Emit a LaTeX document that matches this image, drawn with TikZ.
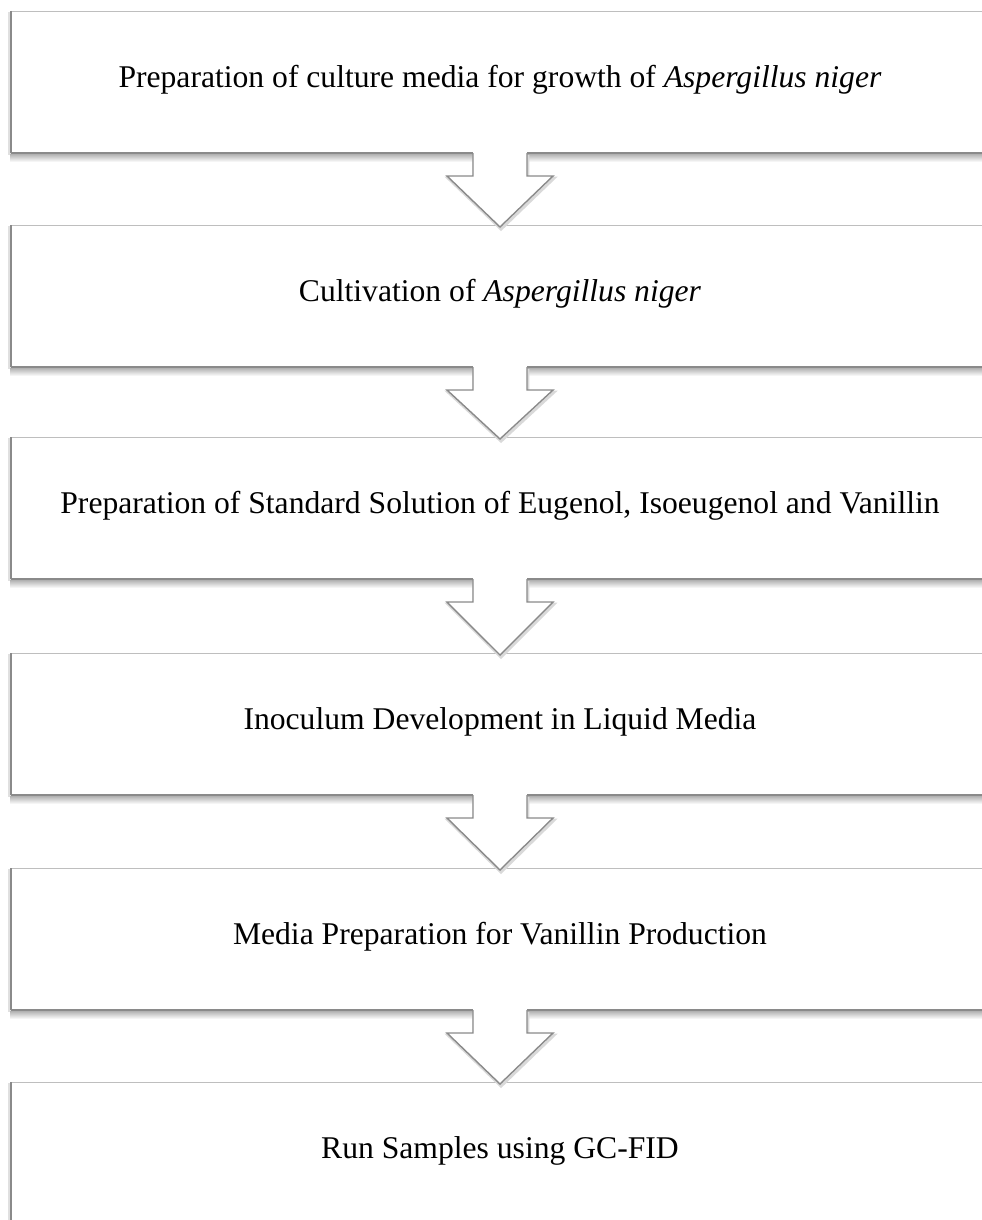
\documentclass[tikz,border=0pt]{standalone}
\usepackage{fontspec}
\setmainfont{Liberation Serif}
\usetikzlibrary{positioning,calc}
\definecolor{edge}{HTML}{8A8A8A}
\definecolor{rim}{HTML}{BEBEBE}
\definecolor{hazec}{HTML}{A8A8A8}
\tikzset{
  stage/.style={draw=rim, line width=.6pt, fill=white, anchor=north, minimum width=19.56cm, minimum height=2.82cm,
                inner sep=0pt, font=\fontsize{18}{21}\selectfont, text height=.66em, text depth=0pt},
  base/.style ={draw=edge, line width=1.5pt},
  side/.style ={draw=edge, line width=1.1pt},
  haze/.style ={top color=hazec, bottom color=white, draw=none},
  blk/.style  ={draw=edge, line width=.8pt, fill=white, line join=miter,
                preaction={draw=black!15, line width=1.6pt, transform canvas={shift={(.6pt,-1.2pt)}}}},
}

\begin{document}
\begin{tikzpicture}[x=0.02cm,y=-0.02cm]
    \useasboundingbox (0,0) rectangle (982,1220);
    \node[stage] (s1) at (500,11)   {Preparation of culture media for growth of \textit{Aspergillus niger}};
    \node[stage] (s2) at (500,225)  {Cultivation of \textit{Aspergillus niger}};
    \node[stage] (s3) at (500,437)  {Preparation of Standard Solution of Eugenol, Isoeugenol and Vanillin};
    \node[stage] (s4) at (500,653)  {Inoculum Development in Liquid Media};
    \node[stage] (s5) at (500,868)  {Media Preparation for Vanillin Production};
    \node[stage] (s6) at (500,1082) {Run Samples using GC-FID};

    % edges with a soft shadow
    \foreach \n in {s1,s2,s3,s4,s5} {
      \shade[haze] (\n.south west) rectangle ($(\n.south east)+(0,9)$);
      \draw[base] (\n.south west) -- (\n.south east);
    }
    \foreach \n in {s1,s2,s3,s4,s5,s6} {
      \draw[black!12, line width=1.2pt] ($(\n.north west)+(-2,1)$) -- ($(\n.south west)+(-2,2)$);
      \draw[side] (\n.north west) -- (\n.south west);
    }

    % block arrows between stages
    \foreach \a/\b in {s1/s2,s2/s3,s3/s4,s4/s5,s5/s6} {
      \fill[white] ($(\a.south)+(-27,-3)$) rectangle ($(\a.south)+(27,23)$);
      \draw[blk] ($(\a.south)+(-27,0)$) -- ($(\a.south)+(-27,23)$) -- ($(\a.south)+(-53,23)$)
            -- ($(\b.north)+(0,2)$) -- ($(\a.south)+(53,23)$) -- ($(\a.south)+(27,23)$) -- ($(\a.south)+(27,0)$);
    }
  \end{tikzpicture}
\end{document}
